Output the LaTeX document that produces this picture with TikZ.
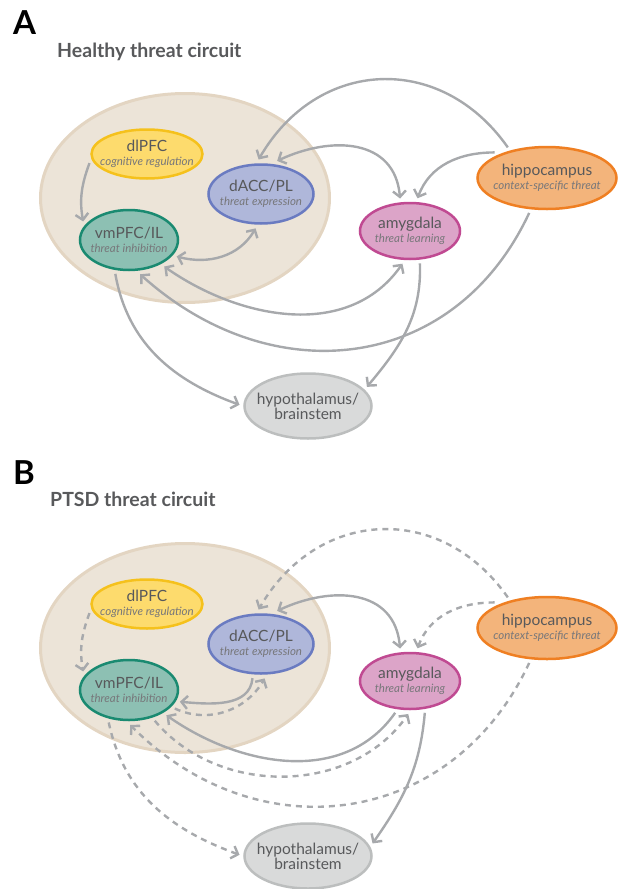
\documentclass[tikz,border=0pt]{standalone}
\usepackage{fontspec}
\setmainfont{Lato}
\usepackage{xcolor}
\usepackage{tikz}
\usetikzlibrary{shapes.geometric,arrows.meta}

\definecolor{linkgray}{HTML}{A7A9AC}
\definecolor{textgray}{HTML}{58595B}
\definecolor{rolegray}{HTML}{77777A}
\definecolor{brainfill}{HTML}{ECE4D8}
\definecolor{brainline}{HTML}{E3D5C2}
\definecolor{dlpfcfill}{HTML}{FDDB6D}
\definecolor{dlpfcline}{HTML}{F5C11C}
\definecolor{daccfill}{HTML}{AFB7DA}
\definecolor{daccline}{HTML}{6A7BC1}
\definecolor{vmpfcfill}{HTML}{8DC0B3}
\definecolor{vmpfcline}{HTML}{1A8A71}
\definecolor{amygfill}{HTML}{DCA4C8}
\definecolor{amygline}{HTML}{C04A92}
\definecolor{hippofill}{HTML}{F3B47B}
\definecolor{hippoline}{HTML}{EF7F22}
\definecolor{hypofill}{HTML}{D9DADA}
\definecolor{hypoline}{HTML}{BCBEBE}

\newcommand{\role}[1]{{\fontsize{11.5}{12}\selectfont\itshape\color{rolegray}#1}}

\begin{document}
\begin{tikzpicture}[x=1pt, y=1pt,
    >={Straight Barb[length=6pt,width=13pt]},
    panelletter/.style={anchor=north west, inner sep=0pt, font=\fontsize{33}{35}\selectfont\bfseries},
    paneltitle/.style={anchor=base west, inner sep=0pt, text=textgray, font=\fontsize{19.5}{21}\selectfont\bfseries},
    brain/.style={ellipse, fill=brainfill, draw=brainline, line width=3pt, minimum width=289pt, minimum height=209pt},
    region/.style={ellipse, draw, line width=2.5pt, inner xsep=-14pt, inner ysep=0pt, outer sep=5pt,
        align=center, text=textgray, font=\fontsize{15.5}{14}\selectfont},
    dlpfc/.style={region, fill=dlpfcfill, draw=dlpfcline, minimum width=111pt, minimum height=49pt},
    dacc/.style={region, fill=daccfill, draw=daccline, minimum width=105pt, minimum height=59pt},
    vmpfc/.style={region, fill=vmpfcfill, draw=vmpfcline, minimum width=98pt, minimum height=60pt},
    amyg/.style={region, fill=amygfill, draw=amygline, minimum width=100pt, minimum height=56pt},
    hippo/.style={region, fill=hippofill, draw=hippoline, minimum width=139pt, minimum height=62pt},
    hypo/.style={region, fill=hypofill, draw=hypoline, minimum width=127pt, minimum height=65pt},
    link/.style={draw=linkgray, line width=2.4pt},
    weak/.style={link, dash pattern=on 6pt off 5pt}]
    \useasboundingbox (0,0) rectangle (622,-889);

    % A: healthy circuit
    \node[panelletter] (letterA) at (13,-10) {A};
    \node[paneltitle] (titleA) at (57,-57) {Healthy threat circuit};
    \node[brain] (pfcA) at (185,-198) {};
    \node[dlpfc] (dlpfcA) at (147,-154) {dlPFC\\\role{cognitive regulation}};
    \node[dacc] (daccA) at (261,-194) {dACC/PL\\\role{threat expression}};
    \node[vmpfc] (vmpfcA) at (129,-240) {vmPFC/IL\\\role{threat inhibition}};
    \node[amyg] (amygA) at (410,-231) {amygdala\\\role{threat learning}};
    \node[hippo] (hippoA) at (547,-178) {hippocampus\\\role{context-specific threat}};
    \node[hypo] (hypoA) at (308,-406) {hypothalamus/\\brainstem};

    \draw[link, ->] (dlpfcA.189) to[out=250, in=100] (vmpfcA.158);
    \draw[link, <->] (vmpfcA.-19) to[out=-15, in=240] (daccA.261);
    \draw[link, ->] (hippoA.142) to[out=125, in=60, looseness=1.2] (daccA.94);
    \draw[link, <->] (daccA.64) to[out=25, in=95, looseness=1.2] (amygA.107);
    \draw[link, ->] (hippoA.154) to[out=180, in=70] (amygA.77);
    \draw[link, <->] (vmpfcA.-37) to[out=-35, in=235] (amygA.257);
    \draw[link, ->] (hippoA.243) to[out=245, in=-42, looseness=1.15] (vmpfcA.288);
    \draw[link, ->] (vmpfcA.248) to[out=-80, in=160] (hypoA.179);
    \draw[link, ->] (amygA.287) to[out=-88, in=50] (hypoA.18);

    % B: PTSD circuit
    \node[panelletter] (letterB) at (13,-460) {B};
    \node[paneltitle] (titleB) at (50,-506) {PTSD threat circuit};
    \node[brain] (pfcB) at (185,-648) {};
    \node[dlpfc] (dlpfcB) at (147,-604) {dlPFC\\\role{cognitive regulation}};
    \node[dacc] (daccB) at (261,-644) {dACC/PL\\\role{threat expression}};
    \node[vmpfc] (vmpfcB) at (129,-690) {vmPFC/IL\\\role{threat inhibition}};
    \node[amyg] (amygB) at (410,-681) {amygdala\\\role{threat learning}};
    \node[hippo] (hippoB) at (547,-628) {hippocampus\\\role{context-specific threat}};
    \node[hypo] (hypoB) at (308,-856) {hypothalamus/\\brainstem};

    \draw[weak, ->] (dlpfcB.189) to[out=250, in=100] (vmpfcB.158);
    \draw[link, ->] (daccB.256) to[out=265, in=-5] (vmpfcB.-13);
    \draw[weak, ->] (vmpfcB.-22) to[out=-25, in=240] (daccB.276);
    \draw[weak, ->] (hippoB.142) to[out=125, in=60, looseness=1.2] (daccB.94);
    \draw[link, <->] (daccB.64) to[out=25, in=95, looseness=1.2] (amygB.107);
    \draw[weak, ->] (hippoB.154) to[out=180, in=70] (amygB.77);
    \draw[link, ->] (amygB.245) to[out=235, in=-35] (vmpfcB.-34);
    \draw[weak, ->] (vmpfcB.-50) to[out=-50, in=235] (amygB.267);
    \draw[weak, ->] (hippoB.243) to[out=245, in=-45, looseness=1.15] (vmpfcB.272);
    \draw[weak, ->] (vmpfcB.238) to[out=-78, in=160] (hypoB.179);
    \draw[link, ->] (amygB.295) to[out=-95, in=55] (hypoB.11);
\end{tikzpicture}
\end{document}
